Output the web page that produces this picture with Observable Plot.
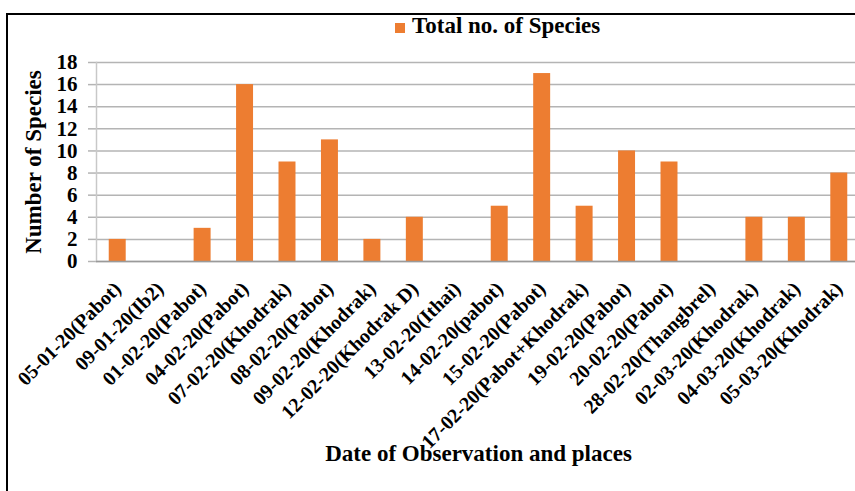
<!DOCTYPE html>
<html>
<head>
<meta charset="utf-8">
<script src="https://cdn.jsdelivr.net/npm/d3@7"></script>
<script src="https://cdn.jsdelivr.net/npm/@observablehq/plot@0.6"></script>
<style>
  html, body { margin: 0; padding: 0; background: #fff; overflow: hidden; width: 855px; height: 491px; }
  #wrap { position: relative; width: 855px; height: 491px; overflow: hidden; font-family: "Liberation Serif", "Times New Roman", serif; }
  #border { position: absolute; left: 6px; top: 13px; width: 900px; height: 600px; border: 2px solid #000; }
  #chart { position: absolute; left: 0; top: 0; }
  #legend { position: absolute; left: 395px; top: 14px; font-weight: bold; font-size: 23px; line-height: 1; display: flex; align-items: flex-start; color: #000; white-space: nowrap; }
  #legend .sw { width: 10px; height: 10px; margin-top: 9px; margin-right: 7px; }
</style>
</head>
<body>
<div id="wrap">
  <div id="border"></div>
  <div id="chart"></div>
  <div id="legend"></div>
</div>
<script>
const categories = [
  "05-01-20(Pabot)", "09-01-20(Ib2)", "01-02-20(Pabot)", "04-02-20(Pabot)",
  "07-02-20(Khodrak)", "08-02-20(Pabot)", "09-02-20(Khodrak)", "12-02-20(Khodrak D)",
  "13-02-20(Ithai)", "14-02-20(pabot)", "15-02-20(Pabot)", "17-02-20(Pabot+Khodrak)",
  "19-02-20(Pabot)", "20-02-20(Pabot)", "28-02-20(Thangbrel)", "02-03-20(Khodrak)",
  "04-03-20(Khodrak)", "05-03-20(Khodrak)"
];
const values = [2, 0, 3, 16, 9, 11, 2, 4, 0, 5, 17, 5, 10, 9, 0, 4, 4, 8];
const yTicks = [0, 2, 4, 6, 8, 10, 12, 14, 16, 18];
const seriesName = "Total no. of Species";
const seriesColor = "#ED7D31";
const xTitle = "Date of Observation and places";
const yTitle = "Number of Species";

const data = categories.map((c, i) => ({date: c, n: values[i]}));

const chart = Plot.plot({
  width: 855,
  height: 491,
  marginTop: 62,
  marginBottom: 230,
  marginLeft: 96,
  marginRight: -5,
  style: {fontFamily: "'Liberation Serif', 'Times New Roman', serif", background: "transparent", overflow: "hidden", color: "#000"},
  x: {domain: categories, paddingInner: 0.6, paddingOuter: 0.3, round: false, label: null},
  y: {domain: [0, 18], label: null},
  marks: [
    Plot.gridY(yTicks, {stroke: "#b4b4b4", strokeOpacity: 1, strokeWidth: 1.5}),
    Plot.axisY(yTicks, {tickSize: 8, tickPadding: 11, stroke: "#b4b4b4", strokeWidth: 1.5, fill: "#000", fontSize: 21, fontWeight: "bold", label: null}),
    Plot.frame({anchor: "left", stroke: "#c8c8c8", strokeWidth: 1.5}),
    Plot.barY(data, {x: "date", y: "n", fill: seriesColor}),
    Plot.ruleY([0], {stroke: "#9a9a9a", strokeWidth: 1.5}),
    Plot.axisX({tickRotate: -45, tickSize: 0, tickPadding: 24, fontSize: 20, fontWeight: "bold", fill: "#000", label: null}),
    Plot.text([xTitle], {text: d => d, frameAnchor: "bottom", dy: 199, fontSize: 23, fontWeight: "bold", fill: "#000"}),
    Plot.text([yTitle], {text: d => d, frameAnchor: "left", textAnchor: "middle", dx: -63, rotate: -90, fontSize: 23, fontWeight: "bold", fill: "#000"})
  ]
});
document.getElementById("chart").appendChild(chart);

const legend = document.getElementById("legend");
const sw = document.createElement("span");
sw.className = "sw";
sw.style.background = seriesColor;
const lt = document.createElement("span");
lt.textContent = seriesName;
legend.appendChild(sw);
legend.appendChild(lt);
</script>
</body>
</html>
